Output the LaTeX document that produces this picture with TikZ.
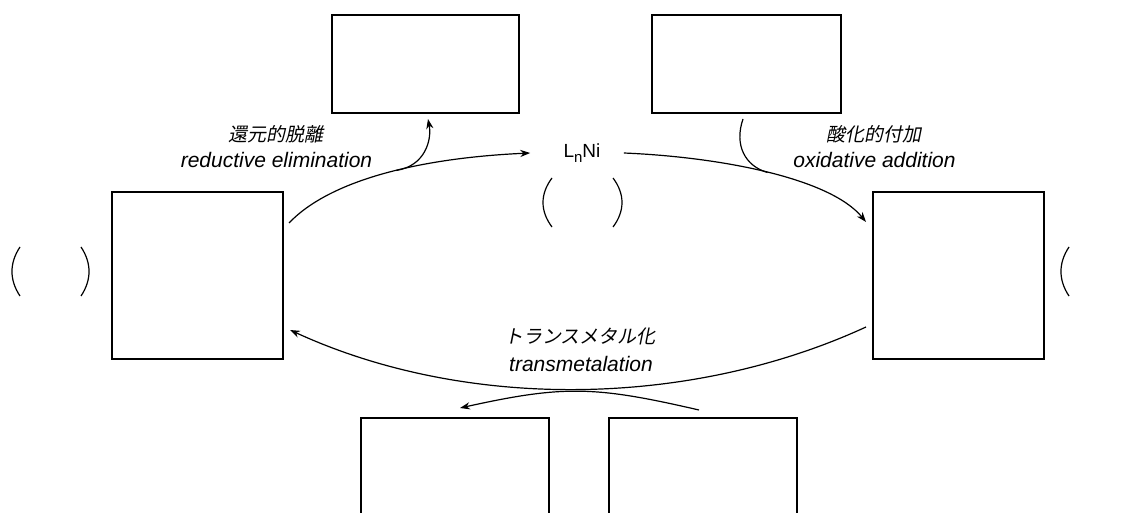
\documentclass[tikz,border=0pt]{standalone}
\usepackage{fontspec}
\setmainfont{Liberation Sans}
\newfontfamily\jpfont[FakeSlant=0.2]{Noto Sans CJK JP}
\usepackage{tikz}
\usetikzlibrary{calc}
\usetikzlibrary{arrows.meta}
\tikzset{>=Stealth}
\tikzstyle{box} = [rectangle, draw=black, line width=0.7pt, inner sep=0pt, outer sep=0pt]
\tikzstyle{jp} = [font = \jpfont\fontsize{9.5}{11}\selectfont, inner sep=0pt]
\tikzstyle{en} = [font = \fontsize{10.5}{12.6}\selectfont\itshape, inner sep=0pt]
\tikzstyle{cyc} = [-{Stealth[length=5pt, width=3.6pt]}, line width=0.6pt]
\tikzstyle{paren} = [line width=0.6pt]

\begin{document}
\begin{tikzpicture}[x=0.5pt, y=-0.5pt]
\clip (0, 0) rectangle (1130, 513);
\node [box, minimum width=93.5pt, minimum height=49pt] (tl) at (425.5, 64) {};
\node [box, minimum width=94.5pt, minimum height=49pt] (tr) at (746.5, 64) {};
\node [box, minimum width=85.5pt, minimum height=83.5pt] (lbox) at (197.5, 275.5) {};
\node [box, minimum width=85.5pt, minimum height=83.5pt] (rbox) at (958.5, 275.5) {};
\node [box, minimum width=94pt, minimum height=85pt] (bl) at (455, 503) {};
\node [box, minimum width=94pt, minimum height=85pt] (br) at (703, 503) {};
\node [font = \fontsize{9.5}{11}\selectfont, inner sep=0pt] (ni) at (582, 153) {L\raisebox{-0.45ex}{\fontsize{7.5}{8}\selectfont n}Ni};
\node [jp] (rejp) at (275.5, 134) {還元的脱離};
\node [en] (reen) at (276.5, 160) {reductive elimination};
\node [jp] (oxjp) at (873.5, 134) {酸化的付加};
\node [en] (oxen) at (874.5, 160) {oxidative addition};
\node [jp] (tmjp) at (580, 336) {トランスメタル化};
\node [en] (tmen) at (581, 364) {transmetalation};
% cycle
\draw [cyc] ($(lbox.north east)+(6,31)$) .. controls (330, 180) and (420, 158) .. ($(ni.west)+(-33,0)$) coordinate[pos=0.55] (rej);
\draw [cyc] (rej) .. controls (425, 166) and (432, 140) .. ($(tl.south)+(2.5,6)$);
\draw [cyc] ($(ni.east)+(23,0)$) .. controls (720, 157) and (830, 178) .. ($(rbox.north west)+(-7,30)$) coordinate[pos=0.5] (oxj);
\draw [paren] ($(tr.south)+(-3.5,6)$) .. controls (734, 145) and (745, 166) .. (oxj);
\draw [cyc] ($(rbox.south west)+(-7,-32)$) .. controls (690, 408) and (466, 411) .. ($(lbox.south east)+(7,-29)$);
\draw [cyc] ($(br.north)+(-4,-8)$) .. controls (595, 386) and (564, 385) .. ($(bl.north)+(5,-10)$);
% brackets
\draw [paren] (552, 178) .. controls (540, 194) and (540, 211) .. (552, 227);
\draw [paren] (613, 178) .. controls (625, 194) and (625, 211) .. (613, 227);
\draw [paren] (20, 247) .. controls (9.3, 263) and (9.3, 280) .. (20, 296);
\draw [paren] (81, 247) .. controls (91.7, 263) and (91.7, 280) .. (81, 296);
\draw [paren] (1069, 247) .. controls (1058.3, 263) and (1058.3, 280) .. (1069, 296);
\end{tikzpicture}
\end{document}
